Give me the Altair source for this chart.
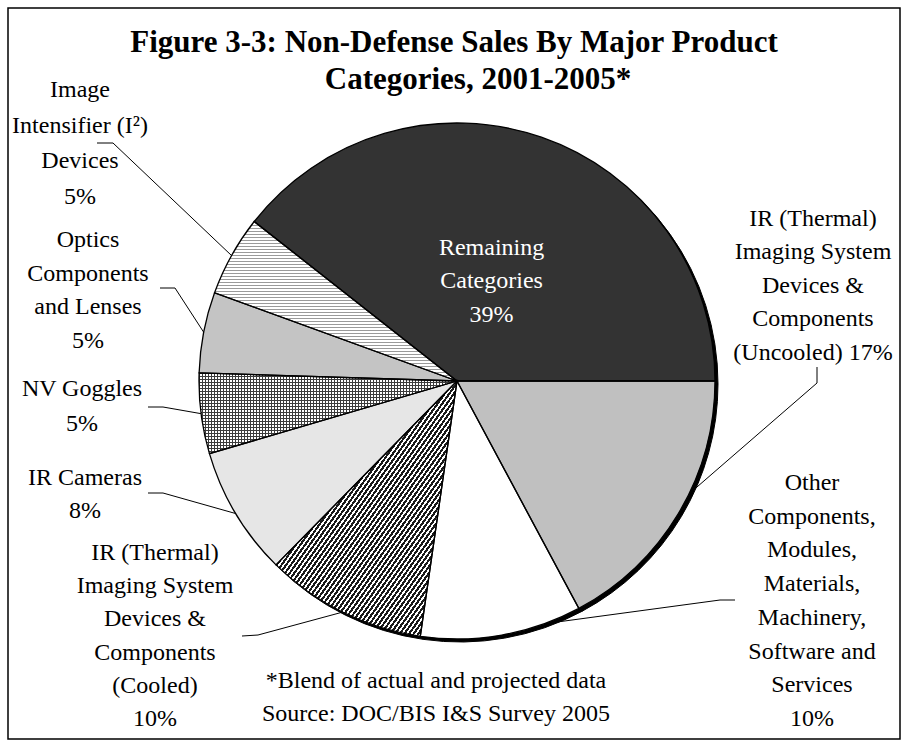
import math
import altair as alt
import pandas as pd

# ---------------- data ----------------
keys = ["uncooled", "other", "cooled", "cameras", "nv", "optics", "i2", "remaining"]
categories = [
    "IR (Thermal) Imaging System Devices & Components (Uncooled)",
    "Other Components, Modules, Materials, Machinery, Software and Services",
    "IR (Thermal) Imaging System Devices & Components (Cooled)",
    "IR Cameras",
    "NV Goggles",
    "Optics Components and Lenses",
    "Image Intensifier (I²) Devices",
    "Remaining Categories",
]
shares = [17, 10, 10, 8, 5, 5, 5, 39]
label_lines = {
    "uncooled": ["IR (Thermal)", "Imaging System", "Devices &", "Components", "(Uncooled) 17%"],
    "other": ["Other", "Components,", "Modules,", "Materials,", "Machinery,", "Software and", "Services", "10%"],
    "cooled": ["IR (Thermal)", "Imaging System", "Devices &", "Components", "(Cooled)", "10%"],
    "cameras": ["IR Cameras", "8%"],
    "nv": ["NV Goggles", "5%"],
    "optics": ["Optics", "Components", "and Lenses", "5%"],
    "i2": ["Image", "Intensifier (I²)", "Devices", "5%"],
    "remaining": ["Remaining", "Categories", "39%"],
}
title_lines = ["Figure 3-3: Non-Defense Sales By Major Product", "Categories, 2001-2005*"]
note_lines = ["*Blend of actual and projected data", "Source: DOC/BIS I&S Survey 2005"]

# ---------------- styles / layout ----------------
fills = ["#c0c0c0", "#ffffff", "#ffffff", "#e6e6e6", "#ffffff", "#c4c4c4", "#ffffff", "#333333"]
W, H = 908, 747
CX, CY, R = 457, 381, 258
FONT = "Liberation Serif"
label_pos = {  # (center x, first line y, line height)
    "uncooled": (813, 219, 33.4),
    "other": (812, 483, 33.7),
    "cooled": (155, 553, 33.2),
    "cameras": (85, 478, 33),
    "nv": (82, 389, 35),
    "optics": (88, 240, 33.5),
    "i2": (80, 90, 35.5),
}
remaining_r = 0.41
leader_pts = {
    "i2": [(97, 143), (113, 143)],
    "optics": [(160, 288), (175, 288)],
    "nv": [(148, 407), (163, 407)],
    "cameras": [(148, 493), (163, 493)],
    "cooled": [(242, 636), (258, 635)],
    "other": [(735, 600), (720, 600)],
    "uncooled": [(817, 367), (817, 383)],
}
anchor_frac = {"other": 0.23, "uncooled": 0.42}
PERIOD = 3.0

total = sum(shares)
slices = pd.DataFrame({"key": keys, "category": categories, "share": shares,
                       "idx": list(range(len(keys)))})
slices["start"] = slices["share"].cumsum() - slices["share"]
slices["end"] = slices["share"].cumsum()
ang = {k: (s / total * 360.0, e / total * 360.0) for k, s, e in zip(keys, slices["start"], slices["end"])}


def bbox(k):
    a0, a1 = ang[k]
    xs_, ys_ = [CX], [CY]
    n = 60
    for i in range(n + 1):
        a = math.radians(a0 + (a1 - a0) * i / n)
        xs_.append(CX + R * math.cos(a))
        ys_.append(CY + R * math.sin(a))
    return max(xs_) - min(xs_), max(ys_) - min(ys_)


def stripes(length, line_color, bg_color, line_frac, x2, y2):
    n = max(1, int(round(length / PERIOD)))
    stops = []
    for i in range(n):
        o0 = i / n
        o1 = (i + line_frac) / n
        o2 = (i + 1) / n
        stops += [{"offset": o0, "color": line_color}, {"offset": o1, "color": line_color},
                  {"offset": o1, "color": bg_color}, {"offset": o2, "color": bg_color}]
    return {"gradient": "linear", "x1": 0, "y1": 0, "x2": x2, "y2": y2, "stops": stops}


CLEAR = "rgba(255,255,255,0)"
w_i2, h_i2 = bbox("i2")
w_nv, h_nv = bbox("nv")
w_co, h_co = bbox("cooled")
pattern_layers = [
    ("i2", stripes(h_i2, "#9a9a9a", "#ffffff", 0.5, 0, 1)),
    ("nv", stripes(h_nv, "#3c3c3c", CLEAR, 0.3, 0, 1)),
    ("nv", stripes(w_nv, "#3c3c3c", CLEAR, 0.3, 1, 0)),
    ("cooled", stripes(math.hypot(w_co, h_co) * 0.75, "#1a1a1a", "#ffffff", 0.55, 1, 1)),
]

# text rows
text_rows = []
for k, lines in label_lines.items():
    if k == "remaining":
        a0, a1 = ang[k]
        a = math.radians((a0 + a1) / 2)
        x0 = CX + remaining_r * R * math.cos(a)
        lh = 33.5
        y0 = CY + remaining_r * R * math.sin(a) - lh * (len(lines) - 1) / 2
        col = "white"
    else:
        x0, y0, lh = label_pos[k]
        col = "black"
    for i, t in enumerate(lines):
        text_rows.append({"key": k, "t": t, "x": x0, "y": y0 + i * lh, "c": col})
texts = pd.DataFrame(text_rows)

note_df = pd.DataFrame({"t": note_lines, "x": [436, 436], "y": [681, 714]})
title_df = pd.DataFrame({"t": title_lines, "x": [454, 478], "y": [43, 80]})

lead_rows = []
for k, pts in leader_pts.items():
    a0, a1 = ang[k]
    a = math.radians(a0 + (a1 - a0) * anchor_frac.get(k, 0.5))
    allpts = pts + [(CX + R * math.cos(a), CY + R * math.sin(a))]
    for j, (px, py) in enumerate(allpts):
        lead_rows.append({"key": k, "seq": j, "x": px, "y": py})
leaders = pd.DataFrame(lead_rows)

xs = alt.Scale(domain=[0, W], nice=False, zero=False)
ys = alt.Scale(domain=[0, H], nice=False, zero=False, reverse=True)
theta_scale = alt.Scale(domain=[0, total], range=[math.pi / 2, math.pi / 2 + 2 * math.pi])

frame = alt.Chart(pd.DataFrame({"a": [0]})).mark_rect(
    fill="white", stroke="black", strokeWidth=1.5
).encode(x=alt.value(8), x2=alt.value(900), y=alt.value(8), y2=alt.value(739))

base_arc = alt.Chart(slices).encode(
    theta=alt.Theta("start:Q", scale=theta_scale),
    theta2=alt.Theta2("end:Q"),
)

shadow = base_arc.mark_arc(outerRadius=R, fill="black", stroke="black", strokeWidth=1).encode(
    x=alt.value(CX + 3), y=alt.value(CY + 3)
)

pie = base_arc.mark_arc(outerRadius=R, strokeWidth=0).encode(
    fill=alt.Fill("key:N", scale=alt.Scale(domain=keys, range=fills), legend=None),
    x=alt.value(CX), y=alt.value(CY),
)

pats = [
    base_arc.transform_filter(alt.datum.key == k).mark_arc(outerRadius=R, fill=g, strokeWidth=0).encode(
        x=alt.value(CX), y=alt.value(CY))
    for k, g in pattern_layers
]

outline = base_arc.mark_arc(outerRadius=R, fillOpacity=0, stroke="black", strokeWidth=1.3).encode(
    x=alt.value(CX), y=alt.value(CY)
)

lines = alt.Chart(leaders).mark_line(color="black", strokeWidth=1).encode(
    x=alt.X("x:Q", scale=xs, axis=None),
    y=alt.Y("y:Q", scale=ys, axis=None),
    detail="key:N",
    order="seq:Q",
)

labels = alt.Chart(texts).mark_text(font=FONT, fontSize=24, align="center", baseline="middle").encode(
    x=alt.X("x:Q", scale=xs, axis=None),
    y=alt.Y("y:Q", scale=ys, axis=None),
    text="t:N",
    color=alt.Color("c:N", scale=None),
)

notes = alt.Chart(note_df).mark_text(font=FONT, fontSize=24, align="center", baseline="middle").encode(
    x=alt.X("x:Q", scale=xs, axis=None),
    y=alt.Y("y:Q", scale=ys, axis=None),
    text="t:N",
)

title = alt.Chart(title_df).mark_text(font=FONT, fontSize=31, fontWeight="bold", align="center",
                                      baseline="middle").encode(
    x=alt.X("x:Q", scale=xs, axis=None),
    y=alt.Y("y:Q", scale=ys, axis=None),
    text="t:N",
)

chart = alt.layer(frame, shadow, pie, *pats, outline, lines, labels, notes, title).properties(
    width=W, height=H, padding=0, autosize="none", background="white"
).configure_view(stroke=None)

chart.save("out.html", embed_options={"renderer": "svg", "actions": False})
